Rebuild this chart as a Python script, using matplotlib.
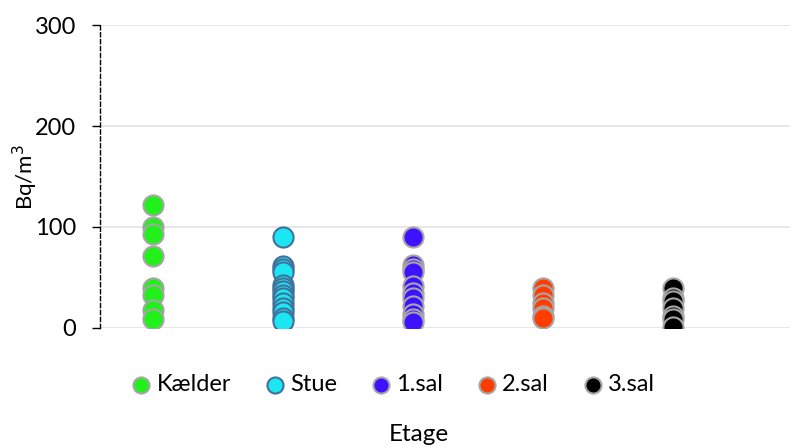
import numpy as np
import matplotlib.pyplot as plt

plt.rcParams['font.family'] = ['Lato', 'DejaVu Sans']

categories = ['Kælder', 'Stue', '1.sal', '2.sal', '3.sal']
kaelder = [122, 100, 93, 71, 40, 33, 18, 9]
stue = [90, 61, 58, 55, 43, 40, 37, 33, 30, 25, 20, 16, 10, 7]
sal1 = [90, 62, 58, 55, 42, 35, 30, 22, 14, 9, 6]
sal2 = [40, 33, 25, 20, 12, 10]
sal3 = [40, 30, 27, 20, 12, 9, 1]
series = [kaelder, stue, sal1, sal2, sal3]

colors = ['#22F01A', '#1CE6F2', '#3F12FF', '#FF3D00', '#000000']
edges = ['#A6A6A6', '#41719C', '#A6A6A6', '#A6A6A6', '#A6A6A6']

fig = plt.figure(figsize=(8.04, 4.48), dpi=100)
ax = fig.add_axes([0.124, 0.268, 0.859, 0.676])

for i, (vals, name) in enumerate(zip(series, categories)):
    ax.scatter(np.full(len(vals), i + 1), vals, s=210, c=colors[i],
               edgecolors=edges[i], linewidths=1.5, label=name, zorder=3)

ax.set_xlim(0.59, 5.9)
ax.set_ylim(0, 300)
ax.set_yticks([0, 100, 200, 300])
ax.set_xticks([])
ax.yaxis.grid(True, color='#E3E3E3', linewidth=1.2)
ax.set_axisbelow(True)
for s in ['top', 'right', 'bottom']:
    ax.spines[s].set_visible(False)
ax.spines['left'].set_linestyle((0, (3, 2)))
ax.spines['left'].set_linewidth(1.0)
ax.tick_params(axis='y', length=6, width=1, labelsize=17, pad=11)

fig.text(0.031, 0.605, 'Bq/m$^3$', rotation=90, ha='center', va='center', fontsize=16)
fig.text(0.521, 0.031, 'Etage', ha='center', va='center', fontsize=17.5)

leg = fig.legend(loc='center', bbox_to_anchor=(0.49, 0.141), ncol=5,
                 frameon=False, fontsize=17, markerscale=0.8,
                 handlelength=0.7, handletextpad=0.3, columnspacing=1.5)

fig.savefig('out.png', dpi=100)
